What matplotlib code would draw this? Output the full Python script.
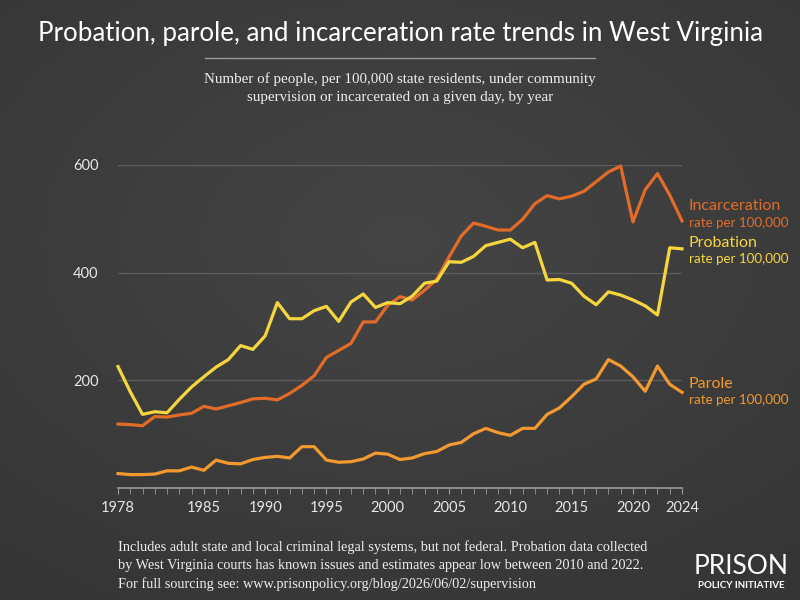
import matplotlib.pyplot as plt
import numpy as np

years = list(range(1978, 2025))

incarceration = [118, 117, 115, 132, 131, 135, 138, 151, 146, 152, 158, 165, 166, 163, 175, 190,
                 208, 242, 255, 268, 308, 308, 339, 355, 349, 367, 387, 429, 468, 492, 486, 479,
                 479, 499, 528, 543, 537, 542, 551, 569, 587, 598, 494, 554, 584, 544, 496]
probation = [225, 178, 136, 141, 139, 164, 187, 206, 224, 238, 264, 257, 282, 344, 314, 314,
             329, 337, 309, 345, 360, 335, 344, 342, 356, 380, 384, 420, 419, 430, 450, 456,
             462, 446, 456, 386, 387, 380, 356, 340, 364, 358, 349, 338, 321, 446, 444]
parole = [26, 24, 24, 25, 31, 31, 38, 32, 51, 45, 44, 52, 56, 58, 55, 76,
          76, 51, 47, 48, 53, 64, 62, 52, 55, 63, 67, 79, 84, 100, 110, 102,
          97, 110, 110, 136, 148, 169, 192, 202, 238, 226, 206, 179, 226, 192, 177]

xtick_years = [1978, 1985, 1990, 1995, 2000, 2005, 2010, 2015, 2020, 2024]
ytick_vals = [200, 400, 600]

c_inc = '#e36b28'
c_prob = '#f6d63f'
c_par = '#f2992f'

fig = plt.figure(figsize=(8, 6), dpi=100)

# background with a soft gradient
bg = fig.add_axes([0, 0, 1, 1], zorder=-1)
gx, gy = np.meshgrid(np.linspace(-1, 1, 200), np.linspace(-1, 1, 150))
r = np.sqrt((gx * 0.9) ** 2 + (gy + 0.2) ** 2)
shade = 0.27 - 0.06 * np.clip(r, 0, 1.4) / 1.4
bg.imshow(np.dstack([shade] * 3), aspect='auto', extent=[0, 1, 0, 1])
bg.axis('off')

ax = fig.add_axes([0.1475, 0.1875, 0.705, 0.5375])
ax.set_facecolor('none')
ax.plot(years, incarceration, color=c_inc, lw=2.3, clip_on=False, zorder=3)
ax.plot(years, probation, color=c_prob, lw=2.3, clip_on=False, zorder=4)
ax.plot(years, parole, color=c_par, lw=2.3, clip_on=False, zorder=3)

ax.set_xlim(1978, 2024)
ax.set_ylim(0, 600)
for v in ytick_vals:
    ax.axhline(v, color='#5c5c5c', lw=1, zorder=1)
for s in ['top', 'right', 'left']:
    ax.spines[s].set_visible(False)
ax.spines['bottom'].set_color('#9a9a9a')
ax.spines['bottom'].set_linewidth(1.2)
ax.set_yticks(ytick_vals)
ax.set_xticks(xtick_years)
ax.set_xticks(years, minor=True)
ax.tick_params(axis='y', length=0, pad=14, labelsize=10.5, labelcolor='#e6e6e6')
ax.tick_params(axis='x', which='both', length=4, color='#9a9a9a', labelsize=10.5,
               labelcolor='#e6e6e6', pad=6)
for lab in ax.get_xticklabels() + ax.get_yticklabels():
    lab.set_family('Lato')

# series labels on the right
lx = 1.012
def label(y1, y2, name, col):
    ax.text(lx, y1, name, transform=ax.get_yaxis_transform(), color=col, fontsize=11.5,
            family='Lato', va='center', ha='left')
    ax.text(lx, y2, 'rate per 100,000', transform=ax.get_yaxis_transform(), color=col,
            fontsize=9.6, family='Lato', va='center', ha='left')

label(523, 493, 'Incarceration', c_inc)
label(455, 425, 'Probation', c_prob)
label(193, 162, 'Parole', c_par)

fig.text(0.5, 0.945, 'Probation, parole, and incarceration rate trends in West Virginia',
         ha='center', va='center', color='white', fontsize=18.6, family='Lato')
fig.add_artist(plt.Line2D([0.256, 0.744], [0.903, 0.903], color='#9a9a9a', lw=1))
fig.text(0.5, 0.853, 'Number of people, per 100,000 state residents, under community\n'
         'supervision or incarcerated on a given day, by year',
         ha='center', va='center', color='#eeeeee', fontsize=10.8,
         family='Liberation Serif', linespacing=1.55)

fig.text(0.147, 0.058, 'Includes adult state and local criminal legal systems, but not federal. '
         'Probation data collected\nby West Virginia courts has known issues and estimates '
         'appear low between 2010 and 2022.\nFor full sourcing see: '
         'www.prisonpolicy.org/blog/2026/06/02/supervision',
         ha='left', va='center', color='#eeeeee', fontsize=10.3,
         family='Liberation Serif', linespacing=1.5)

fig.text(0.927, 0.055, 'PRISON', ha='center', va='center', color='white', fontsize=19,
         family='Lato')
fig.text(0.927, 0.025, 'POLICY INITIATIVE', ha='center', va='center', color='white',
         fontsize=7, family='Lato', weight='bold')

fig.savefig('out.png', dpi=100)
